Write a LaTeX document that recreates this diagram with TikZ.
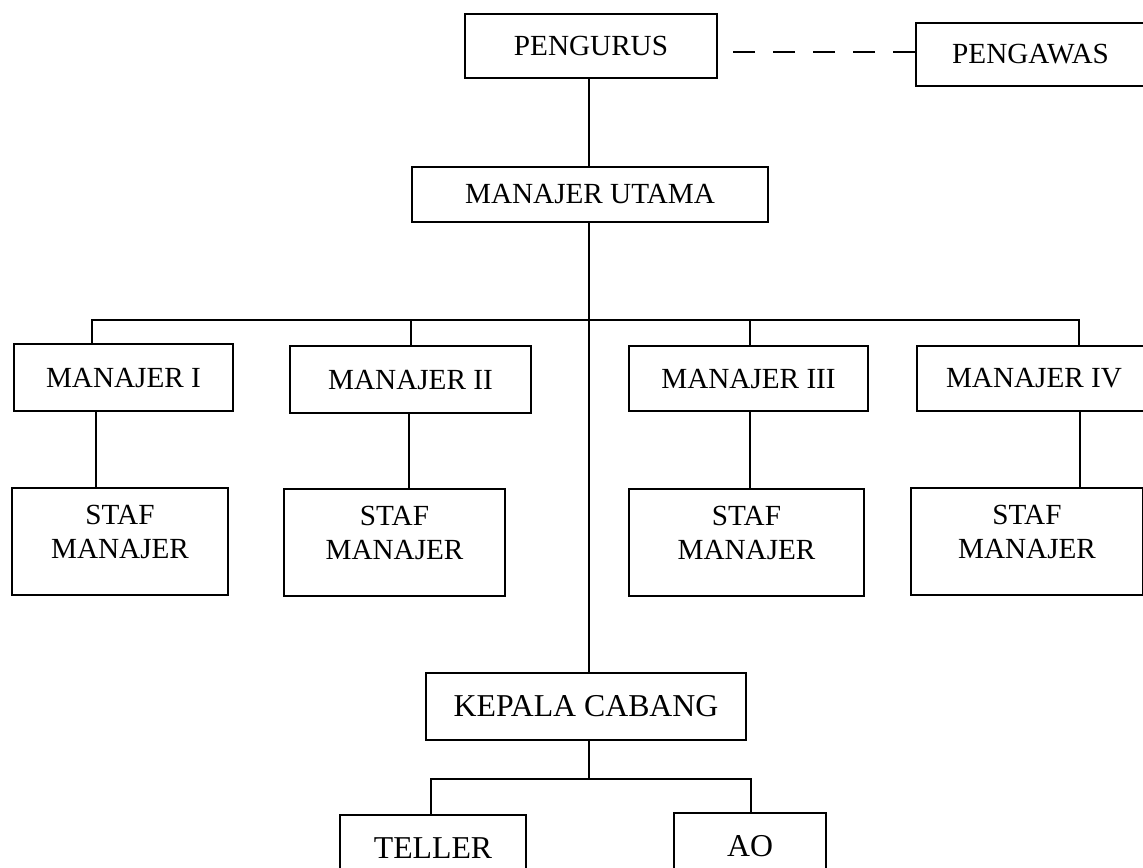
\documentclass[tikz,border=0pt]{standalone}
\usepackage{fontspec}
\setmainfont{Liberation Serif}

\begin{document}
\begin{tikzpicture}[x=0.5pt,y=-0.5pt,line width=1pt,
	kotak/.style={draw,inner sep=0pt,font=\fontsize{14.6}{17}\selectfont},
	besar/.style={kotak,font=\fontsize{15.9}{19}\selectfont},
	staf/.style={kotak,align=center,text depth=9pt,minimum width=#1,minimum height=53.5pt}]
	\clip (0,0) rectangle (1143,867);

	% Draw top boxes
	\node[kotak,minimum width=126pt,minimum height=32pt] (pengurus) at (591,46) {PENGURUS};
	\node[kotak,minimum width=114.5pt,minimum height=31.5pt] (pengawas) at (1030.5,54.5) {PENGAWAS};
	\node[kotak,minimum width=178pt,minimum height=27.5pt] (utama) at (590,194.5) {MANAJER UTAMA};

	% Draw managers and their staff
	\node[kotak,minimum width=109.5pt,minimum height=33.5pt] (m1) at (123.5,377.5) {MANAJER I};
	\node[kotak,minimum width=120.5pt,minimum height=33.5pt] (m2) at (410.5,379.5) {MANAJER II};
	\node[kotak,minimum width=119.5pt,minimum height=32.5pt] (m3) at (748.5,378.5) {MANAJER III};
	\node[kotak,minimum width=117pt,minimum height=32.5pt] (m4) at (1034,378.5) {MANAJER IV};
	\node[staf=108pt] (s1) at (120,541) {STAF\\MANAJER};
	\node[staf=110.5pt] (s2) at (394.5,542) {STAF\\MANAJER};
	\node[staf=117.5pt] (s3) at (746.5,542) {STAF\\MANAJER};
	\node[staf=116pt] (s4) at (1027,541) {STAF\\MANAJER};

	% Draw branch office
	\node[besar,minimum width=160pt,minimum height=33.5pt] (kepala) at (586,706.5) {KEPALA CABANG};
	\node[besar,minimum width=93pt,minimum height=33.5pt] (teller) at (433,848.5) {TELLER};
	\node[besar,minimum width=76pt,minimum height=33.5pt] (ao) at (750,846.5) {AO};

	% Junctions
	\coordinate (cabang) at (589,320);
	\coordinate (bawah) at (589,779);

	% Draw connectors
	\draw[dash pattern=on 11pt off 9pt] (pengawas.west |- 0,52) -- (pengurus.east |- 0,52);
	\draw (pengurus.south -| cabang) -- (utama.north -| cabang);
	\draw (utama.south -| cabang) -- (kepala.north -| cabang);
	\draw (m1.north -| 92,0) |- (cabang) -| (m4.north -| 1079,0);
	\draw (m2.north -| 411,0) -- (cabang -| 411,0);
	\draw (m3.north -| 750,0) -- (cabang -| 750,0);
	\foreach \n/\x in {1/96,2/409,3/750,4/1080}
		\draw (m\n.south -| \x,0) -- (s\n.north -| \x,0);
	\draw (kepala.south -| bawah) -- (bawah);
	\draw (teller.north -| 431,0) |- (bawah) -| (ao.north -| 751,0);
\end{tikzpicture}
\end{document}
